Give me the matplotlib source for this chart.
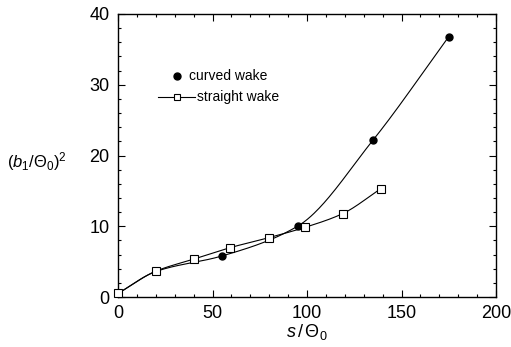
import numpy as np
import matplotlib
matplotlib.use("Agg")
import matplotlib.pyplot as plt
from matplotlib.ticker import MultipleLocator

# valores
curved_s = [0, 20, 55, 95, 135, 175]
curved_b = [0.5, 3.6, 5.8, 10.0, 22.2, 36.8]
curved_marker_idx = [2, 3, 4, 5]   # só estes têm círculo preenchido

straight_s = [0, 20, 40, 59, 80, 99, 119, 139]
straight_b = [0.5, 3.65, 5.35, 6.95, 8.4, 9.85, 11.8, 15.3]


def suavizar(x, y, n=200):
    # cúbica monótona (Fritsch-Carlson), só para desenhar a linha suave
    x = np.asarray(x, float)
    y = np.asarray(y, float)
    h = np.diff(x)
    d = np.diff(y) / h
    m = np.zeros(len(x))
    m[0], m[-1] = d[0], d[-1]
    for i in range(1, len(x) - 1):
        if d[i - 1] * d[i] > 0:
            w1 = 2 * h[i] + h[i - 1]
            w2 = h[i] + 2 * h[i - 1]
            m[i] = (w1 + w2) / (w1 / d[i - 1] + w2 / d[i])
    xs = np.linspace(x[0], x[-1], n)
    j = np.clip(np.searchsorted(x, xs) - 1, 0, len(x) - 2)
    t = (xs - x[j]) / h[j]
    h00 = 2 * t**3 - 3 * t**2 + 1
    h10 = t**3 - 2 * t**2 + t
    h01 = -2 * t**3 + 3 * t**2
    h11 = t**3 - t**2
    ys = h00 * y[j] + h10 * h[j] * m[j] + h01 * y[j + 1] + h11 * h[j] * m[j + 1]
    return xs, ys


plt.rcParams['font.family'] = ['Liberation Sans', 'DejaVu Sans']
plt.rcParams['mathtext.fontset'] = 'custom'
plt.rcParams['mathtext.it'] = 'Liberation Sans:italic'
plt.rcParams['mathtext.rm'] = 'Liberation Sans'

fig = plt.figure(figsize=(5.11, 3.47), dpi=100)
ax = fig.add_axes([118 / 511, 1 - 297 / 347, 378 / 511, 283 / 347])

xs, ys = suavizar(curved_s, curved_b)
ax.plot(xs, ys, color='black', lw=0.8)
ax.plot([curved_s[i] for i in curved_marker_idx], [curved_b[i] for i in curved_marker_idx],
        'o', color='black', ms=5, ls='none')

xs2, ys2 = suavizar(straight_s, straight_b)
ax.plot(xs2, ys2, color='black', lw=0.8)
ax.plot(straight_s, straight_b, 's', mfc='white', mec='black', mew=0.8, ms=6, ls='none',
        clip_on=False, zorder=5)

# legenda manual
ax.plot([31], [31.2], 'o', color='black', ms=5)
ax.text(37.5, 31.2, 'curved wake', fontsize=10, va='center')
ax.plot([21, 41], [28.3, 28.3], color='black', lw=0.8)
ax.plot([31], [28.3], 's', mfc='white', mec='black', mew=0.8, ms=5)
ax.text(42, 28.3, 'straight wake', fontsize=10, va='center')

ax.set_xlim(0, 200)
ax.set_ylim(0, 40)
ax.xaxis.set_major_locator(MultipleLocator(50))
ax.xaxis.set_minor_locator(MultipleLocator(10))
ax.yaxis.set_major_locator(MultipleLocator(10))
ax.yaxis.set_minor_locator(MultipleLocator(2))
ax.tick_params(which='both', direction='in', top=True, right=True, labelsize=13, width=0.8)
ax.tick_params(which='major', length=5, pad=6)
ax.tick_params(which='minor', length=2.5)
for sp in ax.spines.values():
    sp.set_linewidth(1.0)

ax.set_xlabel(r'$s\,/\,\Theta_0$', fontsize=13, labelpad=0)
fig.text(7 / 511, 1 - 162 / 347, r'$\left(b_1/\Theta_0\right)^2$', fontsize=12, va='center', ha='left')

fig.savefig('out.png', dpi=100)
